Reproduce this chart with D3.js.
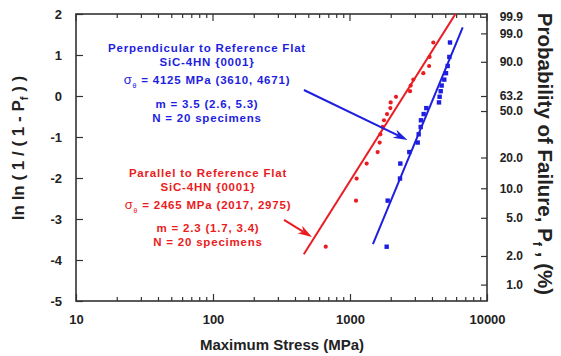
<!DOCTYPE html>
<html>
<head>
<meta charset="utf-8">
<script src="https://cdn.jsdelivr.net/npm/d3@7"></script>
<style>
  html, body { margin: 0; padding: 0; background: #fff; }
  svg { display: block; font-family: "Liberation Sans", Arial, Helvetica, sans-serif; font-weight: bold; }
</style>
</head>
<body>
<svg id="chart" width="561" height="356"></svg>
<script>
// Weibull plot of SiC-4HN {0001} strength, two orientations (N = 20 each)

// ln ln(1/(1-Pf)) rank positions of the 20 specimens, lowest to highest
const rankLnLn = [-3.676, -2.552, -2.013, -1.648, -1.367, -1.135, -0.934, -0.755, -0.592, -0.440,
                  -0.295, -0.156, -0.019, 0.117, 0.255, 0.400, 0.556, 0.732, 0.952, 1.305];

// failure stresses (MPa), sorted
const parallelStress = [665, 1106, 1118, 1323, 1592, 1646, 1665, 1732, 1771, 1863,
                        1970, 1981, 2167, 2742, 2773, 2900, 3430, 3780, 3810, 4057];
const perpStress = [1852, 1884, 2317, 2330, 2710, 3119, 3171, 3281, 3296, 3449,
                    3606, 4462, 4510, 4592, 4667, 4877, 5020, 5165, 5310, 5370];

// Weibull fit parameters: modulus m and characteristic strength (MPa)
const parallelFit = { m: 2.3, sigmaTheta: 2465, range: [460, 6000] };
const perpFit = { m: 3.5, sigmaTheta: 4125, range: [1470, 6650] };

// axis ticks
const stressTicks = [10, 100, 1000, 10000];
const lnTicks = [-5, -4, -3, -2, -1, 0, 1, 2];
const probTicks = [99.9, 99.0, 90.0, 63.2, 50.0, 20.0, 10.0, 5.0, 2.0, 1.0];
const probTickLabels = ["99.9", "99.0", "90.0", "63.2", "50.0", "20.0", "10.0", "5.0", "2.0", "1.0"];

// annotation text
const perpLabel = ["Perpendicular to Reference Flat", "SiC-4HN {0001}", "4125 MPa (3610, 4671)",
                   "m = 3.5 (2.6, 5.3)", "N = 20 specimens"];
const paraLabel = ["Parallel to Reference Flat", "SiC-4HN {0001}", "2465 MPa (2017, 2975)",
                   "m = 2.3 (1.7, 3.4)", "N = 20 specimens"];

// arrows: [stress, lnln] start -> tip
const perpArrow = [[461, 0.146], [2628, -1.073]];
const paraArrow = [[330, -3.02], [528, -3.44]];

const RED = "#ea1c22";
const BLUE = "#1e1ee0";
const AXIS = "#333";

const svg = d3.select("#chart");
const plot = { left: 76, right: 487, top: 14, bottom: 301 };

const x = d3.scaleLog().domain([10, 10000]).range([plot.left, plot.right]);
const y = d3.scaleLinear().domain([-5, 2]).range([plot.bottom, plot.top]);
const probToLnLn = p => Math.log(-Math.log(1 - p / 100));

svg.append("defs").append("clipPath").attr("id", "plotClip")
  .append("rect")
  .attr("x", plot.left).attr("y", plot.top)
  .attr("width", plot.right - plot.left).attr("height", plot.bottom - plot.top);

// minor log ticks
const minorTicks = x.ticks().filter(v => !stressTicks.includes(v));

// bottom axis
const xAxis = svg.append("g")
  .attr("transform", `translate(0,${plot.bottom})`)
  .call(d3.axisBottom(x).tickValues(stressTicks).tickFormat(d3.format("d"))
    .tickSizeInner(-7).tickSizeOuter(0).tickPadding(14));
xAxis.selectAll("text").attr("font-size", 13).attr("fill", "#222");

svg.append("g").selectAll("line").data(minorTicks).join("line")
  .attr("x1", d => x(d)).attr("x2", d => x(d))
  .attr("y1", plot.bottom).attr("y2", plot.bottom - 4)
  .attr("stroke", AXIS).attr("stroke-width", 1.2);

// top border ticks
svg.append("g").selectAll("line").data(minorTicks.concat(stressTicks)).join("line")
  .attr("x1", d => x(d)).attr("x2", d => x(d))
  .attr("y1", plot.top).attr("y2", d => plot.top + (stressTicks.includes(d) ? 7 : 4))
  .attr("stroke", AXIS).attr("stroke-width", 1.2);

// left axis
const yAxis = svg.append("g")
  .attr("transform", `translate(${plot.left},0)`)
  .call(d3.axisLeft(y).tickValues(lnTicks).tickFormat(d3.format("d"))
    .tickSizeInner(-7).tickSizeOuter(0).tickPadding(14));
yAxis.selectAll("text").attr("font-size", 13).attr("fill", "#222")
  .text(d => d < 0 ? "-" + Math.abs(d) : d);

// right axis: probability of failure
const yRight = svg.append("g")
  .attr("transform", `translate(${plot.right},0)`)
  .call(d3.axisRight(y).tickValues(probTicks.map(probToLnLn))
    .tickFormat((d, i) => probTickLabels[i])
    .tickSizeInner(-6).tickSizeOuter(0).tickPadding(8));
yRight.selectAll("text").attr("font-size", 12).attr("fill", "#222")
  .attr("text-anchor", "end").attr("x", 36);

[xAxis, yAxis, yRight].forEach(g => {
  g.select(".domain").remove();
  g.selectAll(".tick line").attr("stroke", AXIS).attr("stroke-width", 1.2);
});

// frame
svg.append("rect")
  .attr("x", plot.left).attr("y", plot.top)
  .attr("width", plot.right - plot.left).attr("height", plot.bottom - plot.top)
  .attr("fill", "none").attr("stroke", AXIS).attr("stroke-width", 1.6);

// Weibull fit lines
const fitLine = fit => d3.line()
  .x(s => x(s))
  .y(s => y(fit.m * Math.log(s / fit.sigmaTheta)));

const lines = svg.append("g").attr("clip-path", "url(#plotClip)");
lines.append("path").datum(parallelFit.range)
  .attr("d", fitLine(parallelFit)).attr("stroke", RED).attr("stroke-width", 2).attr("fill", "none");
lines.append("path").datum(perpFit.range)
  .attr("d", fitLine(perpFit)).attr("stroke", BLUE).attr("stroke-width", 2).attr("fill", "none");

// specimen points
svg.append("g").selectAll("circle").data(parallelStress).join("circle")
  .attr("cx", d => x(d)).attr("cy", (d, i) => y(rankLnLn[i]))
  .attr("r", 2.1).attr("fill", RED);

svg.append("g").selectAll("rect").data(perpStress).join("rect")
  .attr("x", d => x(d) - 2.2).attr("y", (d, i) => y(rankLnLn[i]) - 2.2)
  .attr("width", 4.4).attr("height", 4.4).attr("fill", BLUE);

// arrows
function drawArrow(pts, color) {
  const [x0, y0] = [x(pts[0][0]), y(pts[0][1])];
  const [x1, y1] = [x(pts[1][0]), y(pts[1][1])];
  const ang = Math.atan2(y1 - y0, x1 - x0);
  const headLen = 15, spread = 0.30, notch = 10;
  const bx = x1 - notch * Math.cos(ang), by = y1 - notch * Math.sin(ang);
  svg.append("line")
    .attr("x1", x0).attr("y1", y0).attr("x2", bx).attr("y2", by)
    .attr("stroke", color).attr("stroke-width", 2);
  const p1 = [x1 - headLen * Math.cos(ang - spread), y1 - headLen * Math.sin(ang - spread)];
  const p2 = [x1 - headLen * Math.cos(ang + spread), y1 - headLen * Math.sin(ang + spread)];
  svg.append("path")
    .attr("d", `M${x1},${y1}L${p1[0]},${p1[1]}L${bx},${by}L${p2[0]},${p2[1]}Z`)
    .attr("fill", color);
}
drawArrow(perpArrow, BLUE);
drawArrow(paraArrow, RED);

// annotation blocks
function drawLabel(lines, color, cx, ys) {
  const g = svg.append("g").attr("fill", color).attr("font-size", 11.5)
    .attr("letter-spacing", 0.8).attr("text-anchor", "middle");
  lines.forEach((t, i) => {
    const txt = g.append("text").attr("x", cx).attr("y", ys[i]);
    if (i === 2) {
      txt.append("tspan").attr("font-weight", "normal").attr("font-size", 13).text("σ");
      txt.append("tspan").attr("font-size", 7).attr("font-weight", "normal").attr("dy", 4).text("θ");
      txt.append("tspan").attr("dy", -4).text(" = " + t);
    } else {
      txt.text(t);
    }
  });
}
drawLabel(perpLabel, BLUE, 207, [52, 66, 84, 108, 121.5]);
drawLabel(paraLabel, RED, 208, [177, 190.5, 209, 232, 245.5]);

// axis titles
svg.append("text")
  .attr("x", 282).attr("y", 350).attr("text-anchor", "middle")
  .attr("font-size", 15).attr("fill", "#222")
  .text("Maximum Stress (MPa)");

const leftTitle = svg.append("text")
  .attr("transform", "translate(24,148) rotate(-90)")
  .attr("text-anchor", "middle").attr("font-size", 17).attr("fill", "#222");
leftTitle.append("tspan").text("ln ln ( 1 / ( 1 - P");
leftTitle.append("tspan").attr("font-size", 11).attr("dy", 4).text("f");
leftTitle.append("tspan").attr("dy", -4).text(" ) )");

const rightTitle = svg.append("text")
  .attr("transform", "translate(538,154) rotate(90)")
  .attr("text-anchor", "middle").attr("font-size", 20.5).attr("fill", "#222");
rightTitle.append("tspan").text("Probability of Failure, P");
rightTitle.append("tspan").attr("font-size", 13).attr("dy", 5).text("f");
rightTitle.append("tspan").attr("dy", -5).text(" , (%)");
</script>
</body>
</html>
